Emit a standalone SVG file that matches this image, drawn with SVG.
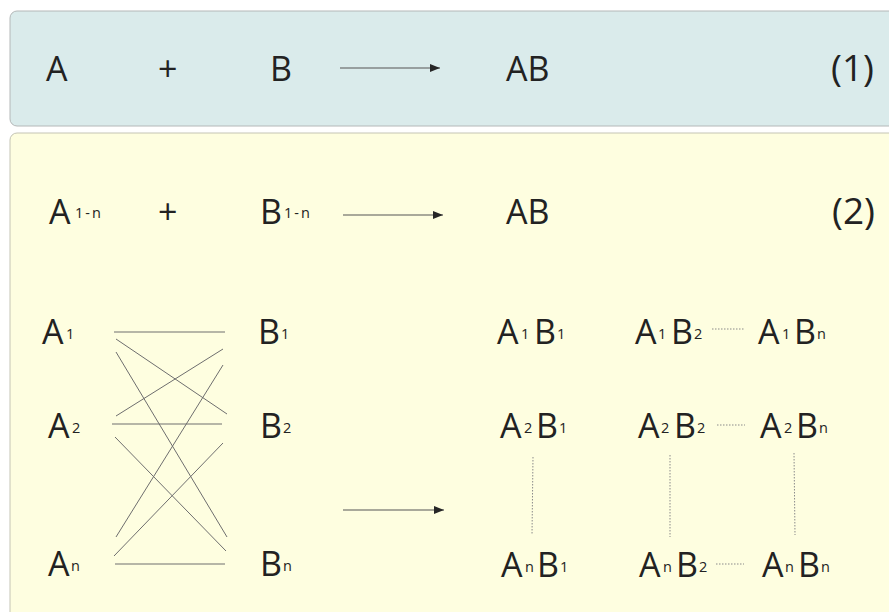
<svg xmlns="http://www.w3.org/2000/svg" width="889" height="612" viewBox="0 0 889 612">
<style>
.m{font-family:"Open Sans","Liberation Sans",sans-serif;font-size:34px;font-weight:500;fill:#222}
.p{font-family:"Open Sans","Liberation Sans",sans-serif;font-size:37px;font-weight:500;fill:#222}
.s{font-family:"Open Sans","Liberation Sans",sans-serif;font-size:14.5px;font-weight:500;fill:#222}
.ln{stroke:#6e6e6e;stroke-width:1;fill:none}
.dt{stroke:#8a8a8a;stroke-width:1;stroke-dasharray:1.5 1.5;fill:none}
.ar{stroke:#555;stroke-width:1.2;fill:none;marker-end:url(#ah)}
</style>
<defs>
<marker id="ah" markerWidth="10" markerHeight="8" refX="10" refY="4" orient="auto" markerUnits="userSpaceOnUse">
<path d="M0,0 L10,4 L0,8 Z" fill="#262626"/>
</marker>
</defs>
<rect x="10" y="11" width="895" height="115" rx="7" fill="#daebeb" stroke="#b4b8b8"/>
<rect x="10" y="133" width="895" height="500" rx="7" fill="#fefee0" stroke="#c4c4b4"/>
<g id="eq1">
<text class="m" x="46" y="81">A</text>
<text class="m" x="158" y="81">+</text>
<text class="m" x="270" y="81">B</text>
<text class="m" x="506" y="81">AB</text>
<text class="p" x="831" y="81">(1)</text>
</g>
<g id="eq2">
<text class="m" x="49" y="224">A</text><text class="s" x="75" y="218" letter-spacing="2">1-n</text>
<text class="m" x="158" y="224">+</text>
<text class="m" x="260" y="224">B</text><text class="s" x="284" y="218" letter-spacing="2">1-n</text>
<text class="m" x="506" y="224">AB</text>
<text class="p" x="832" y="224">(2)</text>
</g>
<g id="A1"><text class="m" x="42" y="344">A</text><text class="s" x="66" y="339">1</text></g>
<g id="A2"><text class="m" x="48" y="438">A</text><text class="s" x="72" y="433">2</text></g>
<g id="An"><text class="m" x="48" y="576">A</text><text class="s" x="71" y="571">n</text></g>
<g id="B1"><text class="m" x="258" y="344">B</text><text class="s" x="281" y="339">1</text></g>
<g id="B2"><text class="m" x="260" y="438">B</text><text class="s" x="283" y="433">2</text></g>
<g id="Bn"><text class="m" x="260" y="576">B</text><text class="s" x="283" y="571">n</text></g>
<g id="A1B1"><text class="m" x="497" y="344">A</text><text class="s" x="521" y="339">1</text><text class="m" x="534" y="344">B</text><text class="s" x="557" y="339">1</text></g>
<g id="A1B2"><text class="m" x="635" y="344">A</text><text class="s" x="658" y="339">1</text><text class="m" x="671" y="344">B</text><text class="s" x="694" y="339">2</text></g>
<g id="A1Bn"><text class="m" x="758" y="344">A</text><text class="s" x="782" y="339">1</text><text class="m" x="794" y="344">B</text><text class="s" x="817" y="339">n</text></g>
<g id="A2B1"><text class="m" x="500" y="438">A</text><text class="s" x="524" y="433">2</text><text class="m" x="536" y="438">B</text><text class="s" x="559" y="433">1</text></g>
<g id="A2B2"><text class="m" x="638" y="438">A</text><text class="s" x="661" y="433">2</text><text class="m" x="674" y="438">B</text><text class="s" x="697" y="433">2</text></g>
<g id="A2Bn"><text class="m" x="760" y="438">A</text><text class="s" x="784" y="433">2</text><text class="m" x="796" y="438">B</text><text class="s" x="819" y="433">n</text></g>
<g id="AnB1"><text class="m" x="501" y="577">A</text><text class="s" x="525" y="572">n</text><text class="m" x="537" y="577">B</text><text class="s" x="560" y="572">1</text></g>
<g id="AnB2"><text class="m" x="639" y="577">A</text><text class="s" x="663" y="572">n</text><text class="m" x="676" y="577">B</text><text class="s" x="699" y="572">2</text></g>
<g id="AnBn"><text class="m" x="762" y="577">A</text><text class="s" x="785" y="572">n</text><text class="m" x="798" y="577">B</text><text class="s" x="821" y="572">n</text></g>
<g id="connectors">
<line class="ar" x1="340" y1="68" x2="440" y2="68"/>
<line class="ar" x1="343" y1="215" x2="443" y2="215"/>
<line class="ar" x1="343" y1="510" x2="444" y2="510"/>
<line class="ln" x1="114" y1="332" x2="225" y2="332"/>
<line class="ln" x1="116" y1="339" x2="227" y2="414"/>
<line class="ln" x1="116" y1="352" x2="227" y2="537"/>
<line class="ln" x1="116" y1="416" x2="223" y2="349"/>
<line class="ln" x1="112" y1="424" x2="222" y2="424"/>
<line class="ln" x1="115" y1="437" x2="226" y2="551"/>
<line class="ln" x1="116" y1="537" x2="223" y2="365"/>
<line class="ln" x1="114" y1="556" x2="223" y2="443"/>
<line class="ln" x1="115" y1="564" x2="225" y2="564"/>
<line class="dt" x1="712" y1="329" x2="744" y2="329"/>
<line class="dt" x1="717" y1="425" x2="745" y2="425"/>
<line class="dt" x1="716" y1="564" x2="744" y2="564"/>
<line class="dt" x1="533" y1="457" x2="532" y2="535"/>
<line class="dt" x1="670" y1="455" x2="670" y2="537"/>
<line class="dt" x1="794" y1="453" x2="795" y2="535"/>
</g>
</svg>
